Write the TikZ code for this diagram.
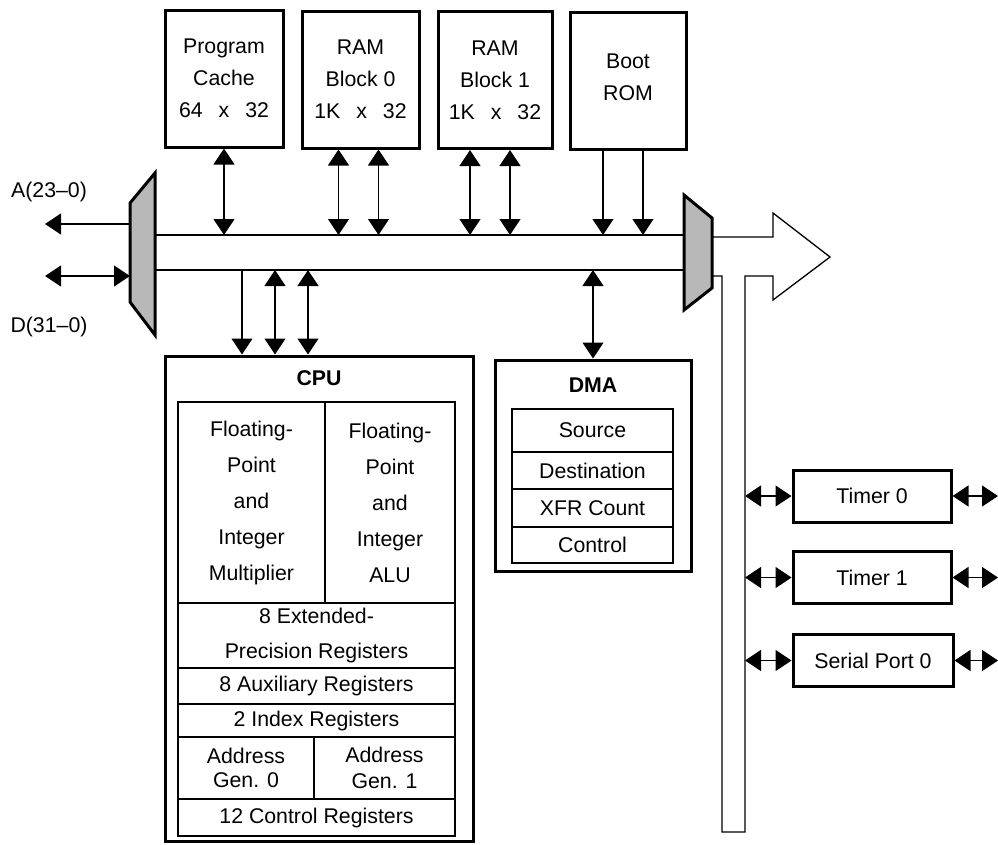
\documentclass[tikz,border=0pt]{standalone}
\usepackage{fontspec}
\setmainfont{Liberation Sans}
\usetikzlibrary{arrows.meta,positioning}

\begin{document}
\begin{tikzpicture}[x=1pt, y=-1pt,
        every node/.style={font=\fontsize{21.3}{32}\selectfont},
        membox/.style={draw, line width=3pt, align=center, inner sep=0pt, minimum height=137pt},
        unitbox/.style={draw, line width=3pt, inner sep=0pt},
        cellbox/.style={draw, line width=1.3pt, align=center, inner sep=0pt},
        periphbox/.style={draw, line width=3pt, align=center, inner sep=0pt, minimum width=158pt, minimum height=52pt},
        muxshape/.style={draw, line width=3pt, fill=black!28, line join=miter},
        busline/.style={line width=1.3pt},
        biarrow/.style={{Triangle[length=16pt,width=21pt]}-{Triangle[length=16pt,width=21pt]}, line width=1.2pt},
        onearrow/.style={-{Triangle[length=16pt,width=21pt]}, line width=1.2pt}
    ]
        \useasboundingbox (0,0) rectangle (998,844);

        % memories on top
        \node[membox, minimum width=118pt] (cache) at (224,78.5) {Program\\Cache\\64\hspace{0.75em}x\hspace{0.75em}32};
        \node[membox, minimum width=117pt] (ram0) at (360.5,79.5) {RAM\\Block 0\\1K\hspace{0.75em}x\hspace{0.75em}32};
        \node[membox, minimum width=114pt] (ram1) at (495,80) {RAM\\Block 1\\1K\hspace{0.75em}x\hspace{0.75em}32};
        \node[membox, minimum width=116pt, text depth=7pt] (boot) at (628,80.5) {Boot\\ROM};

        % external pins
        \draw[muxshape] (130,203) -- (155,173) -- (155,335) -- (130,302) -- cycle;
        \coordinate (amux) at (130,224);
        \coordinate (dmux) at (130,276);
        \coordinate (apin) at (45,224);
        \coordinate (dpin) at (45,276);
        \node (alabel) at (49,192) {A(23--0)};
        \node (dlabel) at (49,327) {D(31--0)};
        \draw[onearrow] (amux) -- (apin);
        \draw[biarrow] (dpin) -- (dmux);

        % buses
        \coordinate (busA) at (155,235);
        \coordinate (busD) at (155,270);
        \draw[busline] (busA) -- (684,235);
        \draw[busline] (busD) -- (684,270);
        \draw[muxshape] (684,195) -- (712,218) -- (712,288) -- (684,310) -- cycle;
        \draw[busline] (712,237) -- (773,237) -- (773,213) -- (830,257) -- (773,300) -- (773,276)
            -- (745,276) -- (745,832) -- (722,832) -- (722,276) -- (712,276);

        \draw[biarrow] (cache.south) -- (cache.south |- busA);
        \foreach \dx in {-22,18}
            \draw[biarrow] ([xshift=\dx pt]ram0.south) -- ([xshift=\dx pt]ram0.south |- busA);
        \foreach \dx in {-25,15}
            \draw[biarrow] ([xshift=\dx pt]ram1.south) -- ([xshift=\dx pt]ram1.south |- busA);
        \foreach \dx in {-25,15}
            \draw[onearrow] ([xshift=\dx pt]boot.south) -- ([xshift=\dx pt]boot.south |- busA);

        % CPU
        \node[unitbox, minimum width=308pt, minimum height=485pt] (cpu) at (319,598.5) {};
        \node[font=\fontsize{21.3}{32}\selectfont\bfseries] (cputitle) at (319,378) {CPU};
        \node[cellbox, minimum width=147pt, minimum height=201pt, font=\fontsize{21.3}{36}\selectfont] (fpmul) at (251.5,502.5) {Floating-\\Point\\and\\Integer\\Multiplier};
        \node[cellbox, minimum width=130pt, minimum height=201pt, font=\fontsize{21.3}{36}\selectfont] (fpalu) at (390,502.5) {Floating-\\Point\\and\\Integer\\ALU};
        \node[cellbox, minimum width=277pt, minimum height=65pt, font=\fontsize{21.3}{35}\selectfont] (extreg) at (316.5,635.5) {8 Extended-\\Precision Registers};
        \node[cellbox, minimum width=277pt, minimum height=36pt] (auxreg) at (316.5,686) {8 Auxiliary Registers};
        \node[cellbox, minimum width=277pt, minimum height=33pt] (idxreg) at (316.5,720.5) {2 Index Registers};
        \node[cellbox, minimum width=136pt, minimum height=62pt, font=\fontsize{21.3}{24}\selectfont] (agen0) at (246,768) {Address\\Gen. 0};
        \node[cellbox, minimum width=141pt, minimum height=62pt, font=\fontsize{21.3}{26}\selectfont] (agen1) at (384.5,768) {Address\\Gen. 1};
        \node[cellbox, minimum width=277pt, minimum height=37pt] (ctlreg) at (316.5,817.5) {12 Control Registers};

        \draw[onearrow] ([xshift=-77pt]cpu.north |- busD) -- ([xshift=-77pt]cpu.north);
        \foreach \dx in {-44,-11}
            \draw[biarrow] ([xshift=\dx pt]cpu.north |- busD) -- ([xshift=\dx pt]cpu.north);

        % DMA
        \node[unitbox, minimum width=196pt, minimum height=211pt] (dma) at (593,465.5) {};
        \node[font=\fontsize{21.3}{32}\selectfont\bfseries] (dmatitle) at (593,385) {DMA};
        \node[cellbox, minimum width=161pt, minimum height=43pt] (src) at (592.5,430.5) {Source};
        \node[cellbox, minimum width=161pt, minimum height=37pt] (dst) at (592.5,470.5) {Destination};
        \node[cellbox, minimum width=161pt, minimum height=38pt] (xfr) at (592.5,508) {XFR Count};
        \node[cellbox, minimum width=161pt, minimum height=36pt] (ctl) at (592.5,545) {Control};
        \draw[biarrow] (dma.north |- busD) -- (dma.north);

        % peripherals
        \coordinate (vbus) at (745,500);
        \coordinate (edge) at (998,500);
        \node[periphbox] (tmr0) at (872,496) {Timer 0};
        \node[periphbox] (tmr1) at (872,577.5) {Timer 1};
        \node[periphbox, minimum width=160pt] (sport) at (873,660.5) {Serial Port 0};
        \foreach \p in {tmr0,tmr1,sport} {
            \draw[biarrow] (vbus |- \p.west) -- (\p.west);
            \draw[biarrow] (\p.east) -- (edge |- \p.east);
        }
    \end{tikzpicture}
\end{document}
